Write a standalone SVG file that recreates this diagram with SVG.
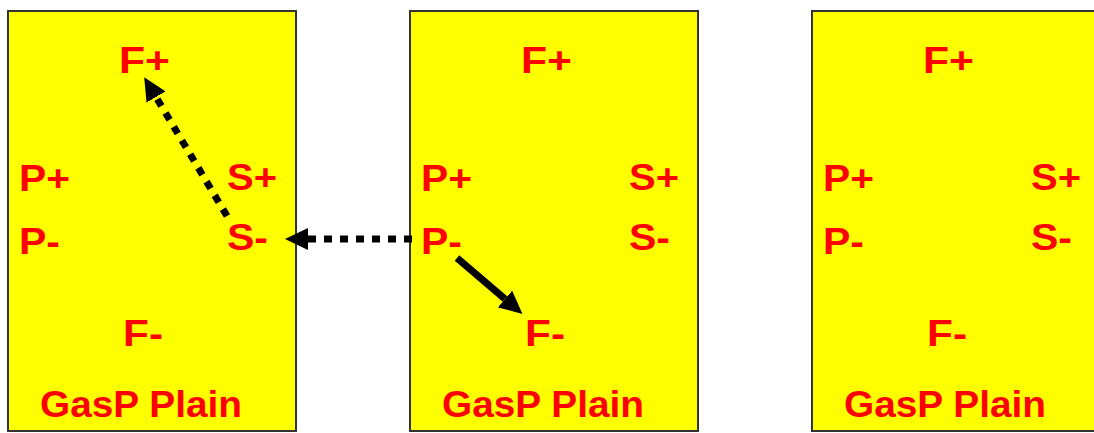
<svg xmlns="http://www.w3.org/2000/svg" width="1094" height="433" viewBox="0 0 1094 433">
<style>
.box{fill:#ffff00;stroke:#333333;stroke-width:2}
.lbl{font-family:"Liberation Sans",Arial,sans-serif;font-weight:bold;font-size:37px;fill:#ff0000}
.dot{fill:none;stroke:#000;stroke-width:7;stroke-dasharray:8 8}
.solid{fill:none;stroke:#000;stroke-width:7}
</style>
<defs>
<marker id="ah" markerUnits="userSpaceOnUse" markerWidth="23" markerHeight="22" refX="0" refY="11" orient="auto" viewBox="0 0 23 22">
<path d="M0,0 L23,11 L0,22 z" fill="#000"/>
</marker>
</defs>
<rect width="1094" height="433" fill="#ffffff"/>
<g id="node-left">
<rect class="box" x="8" y="11" width="288" height="420"/>
<text class="lbl" x="119" y="73" textLength="51" lengthAdjust="spacingAndGlyphs">F+</text>
<text class="lbl" x="19" y="191" textLength="51" lengthAdjust="spacingAndGlyphs">P+</text>
<text class="lbl" x="227" y="190" textLength="50" lengthAdjust="spacingAndGlyphs">S+</text>
<text class="lbl" x="19" y="254" textLength="41" lengthAdjust="spacingAndGlyphs">P-</text>
<text class="lbl" x="227" y="250" textLength="41" lengthAdjust="spacingAndGlyphs">S-</text>
<text class="lbl" x="123" y="346" textLength="40" lengthAdjust="spacingAndGlyphs">F-</text>
<text class="lbl" x="40" y="417" textLength="202" lengthAdjust="spacingAndGlyphs">GasP Plain</text>
</g>
<g id="node-middle">
<rect class="box" x="410" y="11" width="288" height="420"/>
<text class="lbl" x="521" y="73" textLength="51" lengthAdjust="spacingAndGlyphs">F+</text>
<text class="lbl" x="421" y="191" textLength="51" lengthAdjust="spacingAndGlyphs">P+</text>
<text class="lbl" x="629" y="190" textLength="50" lengthAdjust="spacingAndGlyphs">S+</text>
<text class="lbl" x="421" y="254" textLength="41" lengthAdjust="spacingAndGlyphs">P-</text>
<text class="lbl" x="629" y="250" textLength="41" lengthAdjust="spacingAndGlyphs">S-</text>
<text class="lbl" x="525" y="346" textLength="40" lengthAdjust="spacingAndGlyphs">F-</text>
<text class="lbl" x="442" y="417" textLength="202" lengthAdjust="spacingAndGlyphs">GasP Plain</text>
</g>
<g id="node-right">
<rect class="box" x="812" y="11" width="288" height="420"/>
<text class="lbl" x="923" y="73" textLength="51" lengthAdjust="spacingAndGlyphs">F+</text>
<text class="lbl" x="823" y="191" textLength="51" lengthAdjust="spacingAndGlyphs">P+</text>
<text class="lbl" x="1031" y="190" textLength="50" lengthAdjust="spacingAndGlyphs">S+</text>
<text class="lbl" x="823" y="254" textLength="41" lengthAdjust="spacingAndGlyphs">P-</text>
<text class="lbl" x="1031" y="250" textLength="41" lengthAdjust="spacingAndGlyphs">S-</text>
<text class="lbl" x="927" y="346" textLength="40" lengthAdjust="spacingAndGlyphs">F-</text>
<text class="lbl" x="844" y="417" textLength="202" lengthAdjust="spacingAndGlyphs">GasP Plain</text>
</g>
<g id="connectors">
<line class="dot" x1="227" y1="216" x2="156" y2="97" marker-end="url(#ah)"/>
<line class="dot" x1="412" y1="239" x2="308" y2="239" marker-end="url(#ah)"/>
<line class="solid" x1="457" y1="258" x2="505" y2="299" marker-end="url(#ah)"/>
</g>
</svg>
